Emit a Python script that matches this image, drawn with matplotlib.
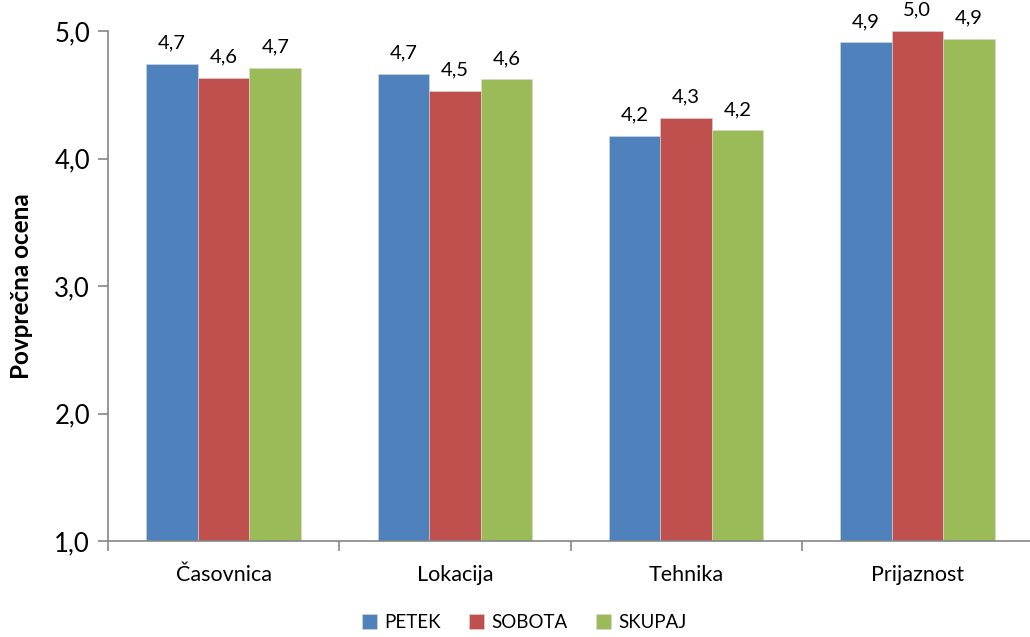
import numpy as np
import matplotlib
matplotlib.use("Agg")
import matplotlib.pyplot as plt

plt.rcParams['font.family'] = ['Lato', 'DejaVu Sans']

# Data
categories = ["Časovnica", "Lokacija", "Tehnika", "Prijaznost"]
series_names = ["PETEK", "SOBOTA", "SKUPAJ"]
petek = [4.74, 4.66, 4.18, 4.91]
sobota = [4.63, 4.53, 4.32, 5.00]
skupaj = [4.71, 4.62, 4.22, 4.94]
colors = ["#4F81BD", "#C0504D", "#9BBB59"]
y_ticks = [1.0, 2.0, 3.0, 4.0, 5.0]

fig = plt.figure(figsize=(10.30, 6.37), dpi=100)
ax = fig.add_axes([0.1049, 0.1507, 0.898, 0.8006])

x = np.arange(len(categories))
width = 0.223
bottom = 1.0
for i, (name, vals) in enumerate(zip(series_names, [petek, sobota, skupaj])):
    pos = x + (i - 1) * width
    heights = [v - bottom for v in vals]
    bars = ax.bar(pos, heights, width, bottom=bottom, color=colors[i],
                  edgecolor="#d8d8d8", linewidth=0.4, label=name, zorder=2)
    for xp, v in zip(pos, vals):
        ax.annotate(f"{v:.1f}".replace(".", ","), (xp, v), xytext=(0, 9),
                    textcoords="offset points", ha="center", va="bottom",
                    fontsize=14.5, color="black")

ax.set_xlim(-0.5, len(categories) - 0.5)
ax.set_ylim(1, 5)
ax.set_yticks(y_ticks)
ax.set_yticklabels([f"{t:.1f}".replace(".", ",") for t in y_ticks], fontsize=18.5)

# category labels centred, ticks at boundaries
ax.set_xticks(x)
ax.set_xticklabels(categories, fontsize=15.5)
ax.tick_params(axis="x", length=0, pad=17)
ax.set_xticks(np.arange(len(categories) + 1) - 0.5, minor=True)
ax.tick_params(axis="x", which="minor", length=7, color="#868686", width=1.2)
ax.tick_params(axis="y", length=7, color="#868686", width=1.2, pad=6)

for s in ["top", "right"]:
    ax.spines[s].set_visible(False)
for s in ["left", "bottom"]:
    ax.spines[s].set_color("#868686")
    ax.spines[s].set_linewidth(1.2)

ax.set_ylabel("Povprečna ocena", fontsize=17.5, fontweight="bold", labelpad=15)

ax.legend(loc="upper center", bbox_to_anchor=(0.45, -0.11), ncol=3, frameon=False,
          fontsize=13.5, handlelength=0.8, handleheight=0.8, handletextpad=0.4,
          columnspacing=1.5)

fig.savefig("out.png", dpi=100)
